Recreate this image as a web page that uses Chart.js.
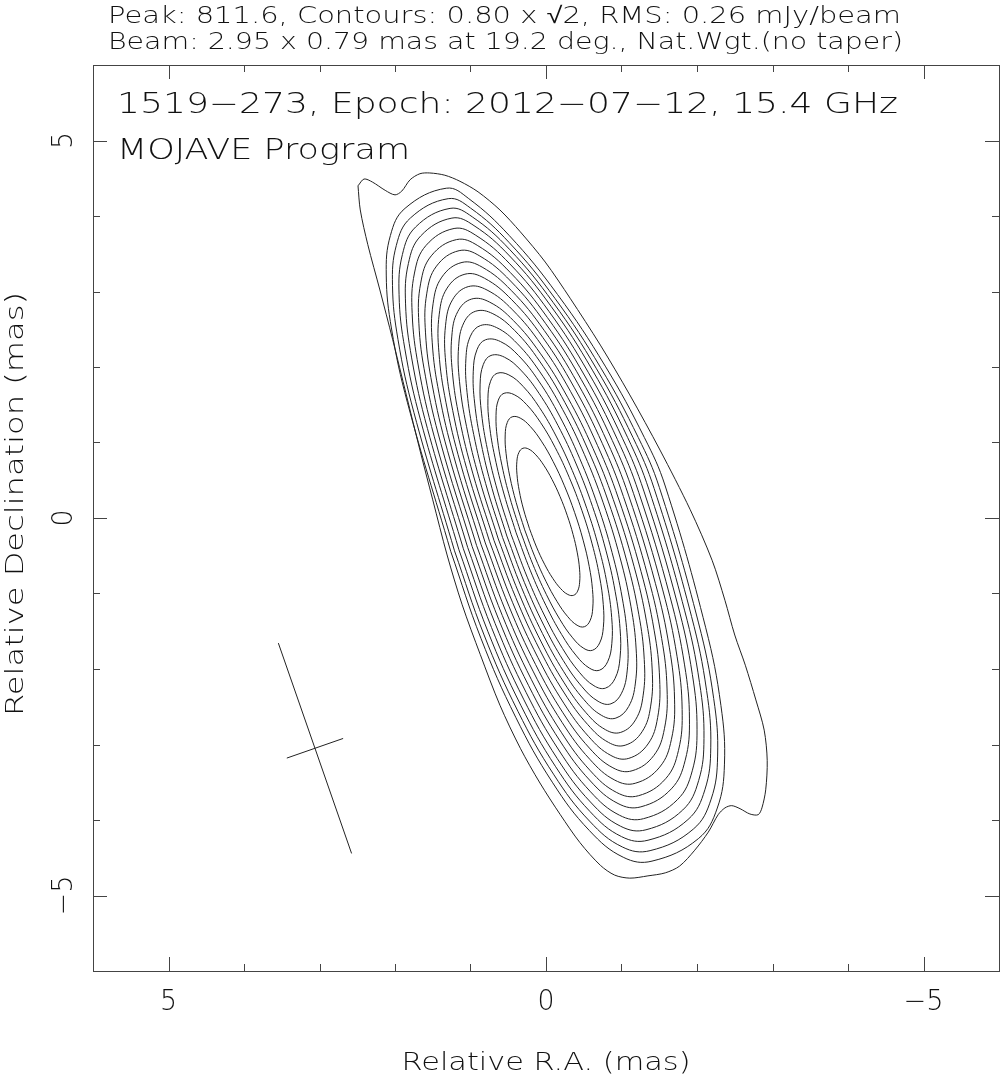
<!DOCTYPE html>
<html>
<head>
<meta charset="utf-8">
<script src="https://cdn.jsdelivr.net/npm/chart.js@4.4.1/dist/chart.umd.min.js"></script>
<style>
html, body { margin: 0; padding: 0; background: #fff; }
#wrap { width: 1001px; height: 1079px; }
</style>
</head>
<body>
<div id="wrap"><canvas id="map" width="1001" height="1079"></canvas></div>
<script>
// texts
var headerLines = ["Peak: 811.6, Contours: 0.80 x \u221A2, RMS: 0.26 mJy/beam",
                   "Beam: 2.95 x 0.79 mas at 19.2 deg., Nat.Wgt.(no taper)"];
var mapTitle = ["1519\u2212273, Epoch: 2012\u221207\u221212, 15.4 GHz", "MOJAVE Program"];
var xTitle = "Relative R.A. (mas)";
var yTitle = "Relative Declination (mas)";
var majorTicks = [5, 0, -5];
var tickLabels = ["5", "0", "\u22125"];
var minorTicks = [4, 3, 2, 1, -1, -2, -3, -4];

// contour levels in mJy/beam (0.80 x sqrt2 steps)
var contourLevels = [0.80, 1.13, 1.60, 2.26, 3.20, 4.53, 6.40, 9.05, 12.8, 18.1,
                     25.6, 36.2, 51.2, 72.4, 102.4, 144.8, 204.8, 289.6, 409.6, 579.2];

// lowest contour (RA, Dec offsets in mas)
var outerRA  = [2.49, 2.41, 2.30, 2.13, 2.00, 1.91, 1.80, 1.67, 1.54, 1.34, 1.14, 0.90, 0.61, 0.34, 0.01,
                -0.32, -0.72, -1.11, -1.51, -1.91, -2.20, -2.37, -2.50, -2.64, -2.78, -2.89, -2.93, -2.91,
                -2.86, -2.81, -2.70, -2.57, -2.46, -2.37, -2.28, -2.15, -1.97, -1.77, -1.58, -1.35, -1.11,
                -0.91, -0.72, -0.45, -0.19, 0.08, 0.34, 0.61, 0.87, 1.11, 1.31, 1.50, 1.67, 1.85, 2.03,
                2.20, 2.36, 2.46, 2.49];
var outerDec = [4.40, 4.49, 4.45, 4.34, 4.28, 4.33, 4.48, 4.56, 4.57, 4.54, 4.46, 4.32, 4.08, 3.79, 3.39,
                2.91, 2.29, 1.63, 0.90, 0.11, -0.56, -1.09, -1.55, -1.95, -2.41, -2.81, -3.21, -3.60,
                -3.84, -3.93, -3.92, -3.85, -3.81, -3.84, -3.93, -4.16, -4.40, -4.61, -4.70, -4.74, -4.77,
                -4.73, -4.60, -4.30, -3.93, -3.51, -3.05, -2.48, -1.81, -1.15, -0.49, 0.24, 0.90, 1.63, 2.36,
                3.02, 3.62, 4.08, 4.40];

// higher contours: extent from the core along the jet axis (N / S) and across it (E / W), mas
var extN = [4.62, 4.48, 4.35, 4.22, 4.08, 3.93, 3.78, 3.62, 3.46, 3.29, 3.12, 2.95, 2.75, 2.55, 2.33, 2.08, 1.80, 1.47, 1.03];
var extS = [4.70, 4.56, 4.42, 4.28, 4.13, 3.97, 3.82, 3.65, 3.48, 3.31, 3.13, 2.95, 2.75, 2.55, 2.33, 2.08, 1.80, 1.47, 1.03];
var extE = [1.35, 1.30, 1.24, 1.18, 1.12, 1.06, 1.00, 0.94, 0.88, 0.82, 0.76, 0.70, 0.64, 0.58, 0.52, 0.45, 0.39, 0.33, 0.265];
var extW = [1.62, 1.54, 1.47, 1.40, 1.33, 1.26, 1.19, 1.12, 1.05, 0.98, 0.91, 0.84, 0.77, 0.69, 0.62, 0.54, 0.47, 0.37, 0.265];
// axis position angle of each contour (deg) and squareness of its NE / NW / SW quarters
var extPA   = [17.0, 17.2, 17.4, 17.6, 17.8, 18.0, 18.2, 18.4, 18.6, 18.8, 19, 19, 19, 19, 19, 19, 19, 19, 19];
var shapeNE = [0.60, 0.63, 0.66, 0.69, 0.72, 0.75, 0.78, 0.81, 0.84, 0.87, 0.90, 0.93, 0.96, 1, 1, 1, 1, 1, 1];
var shapeNW = [1.40, 1.36, 1.32, 1.28, 1.25, 1.22, 1.19, 1.16, 1.13, 1.10, 1.08, 1.05, 1.03, 1, 1, 1, 1, 1, 1];
var shapeSW = [0.65, 0.66, 0.68, 0.70, 0.72, 0.75, 0.78, 0.81, 0.84, 0.87, 0.90, 0.93, 0.96, 1, 1, 1, 1, 1, 1];
var coreRA = -0.03, coreDec = -0.05;

// restoring beam
var beamRA = 3.06, beamDec = -3.05, beamMaj = 2.95, beamMin = 0.79, beamPA = 19.2;

// outline sample angles, starting on the east flank so the closing joint is on a straight part
var outlineSteps = [90, 105, 120, 135, 150, 165, 180, 195, 210, 225, 240, 255, 270, 285, 300, 315,
                    330, 345, 360, 375, 390, 405, 420, 435, 450];

var rad = Math.PI / 180;
function contourPoints(i) {
    var sp = Math.sin(extPA[i] * rad), cp = Math.cos(extPA[i] * rad);
    return outlineSteps.map(function (t) {
        var c = Math.cos(t * rad), s = Math.sin(t * rad);
        if (Math.abs(c) < 1e-9) c = 0;
        if (Math.abs(s) < 1e-9) s = 0;
        var p = 1;
        if (c > 0 && s > 0) p = shapeNE[i];
        else if (c > 0 && s < 0) p = shapeNW[i];
        else if (c < 0 && s < 0) p = shapeSW[i];
        var u = Math.sign(c) * Math.pow(Math.abs(c), p) * (c >= 0 ? extN[i] : extS[i]);
        var v = Math.sign(s) * Math.pow(Math.abs(s), p) * (s >= 0 ? extE[i] : extW[i]);
        return {x: coreRA + u * sp + v * cp, y: coreDec + u * cp - v * sp};
    });
}

var LINE = '#222';
var datasets = [];
datasets.push({
    data: outerRA.map(function (ra, i) { return {x: ra, y: outerDec[i]}; }),
    showLine: true, borderColor: LINE, borderWidth: 1, pointRadius: 0, tension: 0.3
});
for (var i = 0; i < extN.length; i++) {
    datasets.push({data: contourPoints(i), showLine: true, borderColor: LINE,
                   borderWidth: 1, pointRadius: 0, tension: 0.4});
}
// beam cross
var bs = Math.sin(beamPA * rad), bc = Math.cos(beamPA * rad);
datasets.push({data: [{x: beamRA + beamMaj / 2 * bs, y: beamDec + beamMaj / 2 * bc},
                      {x: beamRA - beamMaj / 2 * bs, y: beamDec - beamMaj / 2 * bc}],
               showLine: true, borderColor: LINE, borderWidth: 1, pointRadius: 0});
datasets.push({data: [{x: beamRA + beamMin / 2 * bc, y: beamDec - beamMin / 2 * bs},
                      {x: beamRA - beamMin / 2 * bc, y: beamDec + beamMin / 2 * bs}],
               showLine: true, borderColor: LINE, borderWidth: 1, pointRadius: 0});

function font(sz) { return "200 " + sz + "px 'DejaVu Sans', sans-serif"; }

// draw text squeezed/stretched to a given width; x is the left edge or the centre
function fitText(ctx, txt, x, y, w, sz, centred) {
    ctx.font = font(sz);
    var m = ctx.measureText(txt).width;
    ctx.save();
    ctx.translate(x, y);
    ctx.scale(w / m, 1);
    ctx.textAlign = centred ? 'center' : 'left';
    ctx.fillText(txt, 0, 0);
    ctx.restore();
}

var framePlugin = {
    id: 'frame',
    afterDraw: function (chart) {
        var ctx = chart.ctx, a = chart.chartArea;
        var xs = chart.scales.x, ys = chart.scales.y;
        ctx.save();
        ctx.strokeStyle = '#444';
        ctx.lineWidth = 1;
        ctx.strokeRect(a.left + 0.5, a.top + 0.5, a.right - a.left, a.bottom - a.top);
        ctx.beginPath();
        function tick(v, len) {
            var px = Math.round(xs.getPixelForValue(v)) + 0.5;
            ctx.moveTo(px, a.bottom); ctx.lineTo(px, a.bottom - len);
            ctx.moveTo(px, a.top); ctx.lineTo(px, a.top + len);
            var py = Math.round(ys.getPixelForValue(v)) + 0.5;
            ctx.moveTo(a.left, py); ctx.lineTo(a.left + len, py);
            ctx.moveTo(a.right, py); ctx.lineTo(a.right - len, py);
        }
        majorTicks.forEach(function (v) { tick(v, 14); });
        minorTicks.forEach(function (v) { tick(v, 7); });
        ctx.stroke();

        ctx.fillStyle = '#111';
        ctx.textBaseline = 'alphabetic';
        fitText(ctx, headerLines[0], 108, 23, 793, 23);
        fitText(ctx, headerLines[1], 108, 49, 795, 23);
        fitText(ctx, mapTitle[0], 117, 113, 781, 28);
        fitText(ctx, mapTitle[1], 117, 159, 293, 28);

        majorTicks.forEach(function (v, i) {
            var lw = tickLabels[i].length > 1 ? 40 : 17;
            fitText(ctx, tickLabels[i], xs.getPixelForValue(v), 1010, lw, 28, true);
            ctx.save();
            ctx.translate(72, ys.getPixelForValue(v));
            ctx.rotate(-Math.PI / 2);
            fitText(ctx, tickLabels[i], 0, 0, lw, 28, true);
            ctx.restore();
        });
        fitText(ctx, xTitle, 546, 1070, 289, 25, true);
        ctx.save();
        ctx.translate(23, 504);
        ctx.rotate(-Math.PI / 2);
        fitText(ctx, yTitle, 0, 0, 424, 25, true);
        ctx.restore();
        ctx.restore();
    }
};

new Chart(document.getElementById('map'), {
    type: 'scatter',
    data: {datasets: datasets},
    options: {
        responsive: false,
        animation: false,
        layout: {padding: {left: 93, right: 2, top: 65, bottom: 108}},
        plugins: {legend: {display: false}, tooltip: {enabled: false}},
        scales: {
            x: {type: 'linear', min: -6, max: 6, reverse: true, display: false},
            y: {type: 'linear', min: -6, max: 6, display: false}
        }
    },
    plugins: [framePlugin]
});
</script>
</body>
</html>
